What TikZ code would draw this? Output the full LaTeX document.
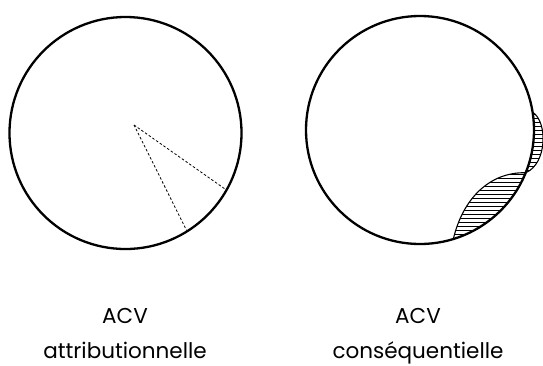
\documentclass[tikz,border=0pt]{standalone}
\usepackage{fontspec}
\setmainfont{Poppins}
\usetikzlibrary{calc}
\begin{document}
\begin{tikzpicture}[x=1pt,y=-1pt,
  ring/.style={line width=2.3pt},
  ray/.style={dash pattern=on 2.5pt off 2pt, line width=0.8pt},
  edge/.style={line width=1.1pt},
  hatch/.style={line width=0.7pt},
  lbl/.style={font=\fontsize{21.5}{24}\selectfont, anchor=base, inner sep=0pt}]
\useasboundingbox (0,0) rectangle (543,365);
% left circle
\coordinate (cL) at (125.5,133);
\draw[ring] (cL) circle [radius=116];
\coordinate (apex) at (134,125);
\coordinate (e1) at ($(cL)+(29.4:115)$);
\coordinate (e2) at ($(cL)+(57.9:115)$);
\draw[ray] (apex) -- (e1);
\draw[ray] (apex) -- (e2);
% right circle
\coordinate (cR) at (420,130);
\coordinate (p1) at ($(cR)+(73:114)$);
\coordinate (p2) at ($(cR)+(22:114)$);
\coordinate (p3) at ($(cR)+(-9:114)$);
% lower hatched lens
\begin{scope}
  \clip (p2) .. controls (490,172) and (463,198) .. (p1)
        arc[start angle=73, end angle=22, radius=114] -- cycle;
  \foreach \yy in {150,154,...,250} \draw[hatch] (430,\yy) -- (545,\yy);
\end{scope}
\draw[edge] (p2) .. controls (490,172) and (463,198) .. (p1);
% upper hatched bulge
\begin{scope}
  \clip (p3) .. controls (548,122) and (547,164) .. (p2)
        arc[start angle=22, end angle=-9, radius=114] -- cycle;
  \foreach \yy in {102,106,...,190} \draw[hatch] (500,\yy) -- (545,\yy);
\end{scope}
\draw[edge] (p3) .. controls (548,122) and (547,164) .. (p2);
\draw[ring] (cR) circle [radius=114];
% labels
\node[lbl] (t1) at (125,323) {ACV};
\node[lbl] (t2) at (125,358) {attributionnelle};
\node[lbl] (t3) at (418,323) {ACV};
\node[lbl] (t4) at (418,358) {conséquentielle};
\end{tikzpicture}
\end{document}
